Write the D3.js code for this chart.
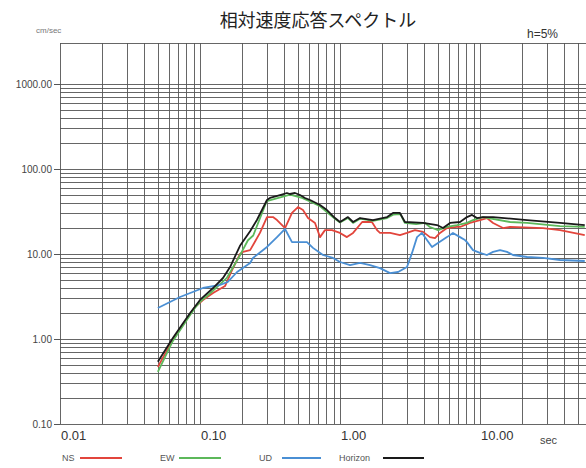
<!DOCTYPE html>
<html>
<head>
<meta charset="utf-8">
<script src="https://cdn.jsdelivr.net/npm/d3@7"></script>
<style>
  body { margin: 0; background: #fff; }
  svg { display: block; }
  .grid line { stroke: #555; stroke-width: 0.9; }
  .ylab { font-family: "Liberation Sans", Arial, sans-serif; font-size: 10px; fill: #444; }
  .xlab { font-family: "Liberation Sans", Arial, sans-serif; font-size: 13px; fill: #333; }
  .leg { font-family: "Liberation Sans Narrow", "Liberation Sans", sans-serif; font-size: 9px; fill: #555; }
</style>
</head>
<body>
<div id="chart"></div>
<script>
// svg size
var svgWidth = 586;
var svgHeight = 468;

// plot frame (right side runs past the picture edge)
var plot = { left: 60, right: 620, top: 43, bottom: 424 };

// axis ticks
var xTicks = [0.01, 0.1, 1, 10];
var xTickLabels = ["0.01", "0.10", "1.00", "10.00"];
var yTicks = [0.1, 1, 10, 100, 1000];
var yTickLabels = ["0.10", "1.00", "10.00", "100.00", "1000.00"];

// NS
var nsPeriod = [0.05, 0.064, 0.085, 0.092, 0.105, 0.124, 0.151, 0.169, 0.193, 0.203, 0.228, 0.268, 0.301, 0.332, 0.355, 0.405, 0.454, 0.501, 0.544, 0.591, 0.663, 0.72, 0.781, 0.877, 1.0, 1.12, 1.24, 1.44, 1.69, 1.84, 1.93, 2.28, 2.68, 3.01, 3.43, 3.92, 4.39, 4.77, 5.18, 5.81, 6.85, 7.2, 8.48, 10, 11.2, 12.4, 14.6, 16.4, 28.2, 37.3, 56];
var nsValue = [0.47, 0.98, 1.95, 2.38, 2.88, 3.48, 4.2, 6.4, 10.0, 10.6, 11.1, 17.7, 27.2, 27.2, 25.1, 20.2, 30.4, 35.7, 32.9, 26.5, 23.2, 15.8, 19.1, 19.1, 17.7, 15.8, 17.7, 23.8, 23.8, 19.1, 17.7, 17.7, 16.7, 17.7, 19.1, 18.2, 15.8, 15.4, 17.7, 20.2, 20.8, 20.8, 23.2, 25.1, 26.5, 23.2, 20.2, 20.8, 20.2, 19.1, 16.7];

// EW
var ewPeriod = [0.05, 0.064, 0.085, 0.092, 0.1, 0.124, 0.155, 0.19, 0.22, 0.24, 0.3, 0.44, 0.535, 0.6, 0.72, 0.92, 1.0, 1.14, 1.24, 1.39, 1.72, 2.17, 2.4, 2.7, 2.9, 3.5, 4.05, 4.39, 5.01, 5.81, 6.85, 8.07, 8.91, 10.5, 16.4, 21.7, 37.3, 56];
var ewValue = [0.41, 0.95, 1.91, 2.32, 2.73, 3.7, 5.2, 9.2, 14.5, 16.5, 42, 50, 45.6, 42, 36.5, 26, 23.5, 26.5, 23.2, 26, 24.5, 26.5, 29, 29.5, 23.2, 22.5, 23.2, 20.8, 19.1, 20.8, 21.9, 23.2, 25.1, 27.2, 23.8, 23.2, 21.3, 20.8];

// UD
var udPeriod = [0.05, 0.072, 0.105, 0.139, 0.158, 0.184, 0.228, 0.239, 0.301, 0.355, 0.405, 0.454, 0.501, 0.581, 0.641, 0.756, 0.891, 1.0, 1.18, 1.39, 1.64, 1.93, 2.28, 2.6, 3.01, 3.27, 3.55, 3.85, 4.18, 4.54, 5.01, 5.81, 6.41, 7.2, 7.81, 8.07, 8.91, 10, 11.2, 12.4, 13.9, 15.6, 17.2, 21.7, 28.2, 37.3, 56];
var udValue = [2.32, 3.12, 3.98, 4.32, 4.69, 6.14, 7.84, 8.98, 12.1, 15.8, 19.7, 13.8, 13.8, 13.8, 11.8, 9.73, 8.98, 8.05, 7.42, 7.84, 7.42, 6.83, 5.96, 6.14, 7.03, 10.3, 15.8, 17.7, 14.6, 12.1, 13.5, 15.8, 17.7, 15.8, 14.6, 13.8, 11.1, 10.3, 9.73, 10.6, 11.1, 10.6, 9.73, 9.22, 8.98, 8.5, 8.27];

// Horizon
var hzPeriod = [0.05, 0.064, 0.085, 0.1, 0.124, 0.146, 0.164, 0.193, 0.228, 0.255, 0.301, 0.316, 0.373, 0.418, 0.439, 0.477, 0.518, 0.562, 0.611, 0.72, 0.807, 0.921, 1.0, 1.14, 1.24, 1.39, 1.72, 2.17, 2.39, 2.68, 2.91, 3.92, 4.93, 5.44, 6.11, 7.2, 8.07, 8.77, 9.52, 10.5, 12.4, 21.7, 37.3, 56];
var hzValue = [0.54, 1.03, 2.02, 2.88, 3.98, 5.22, 7.03, 12.5, 18.5, 25.1, 43.2, 45.6, 49.4, 52.2, 50.8, 52.2, 49.4, 45.6, 43.2, 37.7, 32.9, 26.5, 23.8, 27.2, 23.8, 26.5, 25.1, 27.2, 30.4, 30.4, 23.8, 23.2, 21.9, 20.2, 23.2, 23.8, 27.2, 28.8, 26.5, 27.2, 27.2, 25.1, 23.2, 21.9];

var series = [
  { name: "NS", period: nsPeriod, value: nsValue, color: "#e2453c", lx: 62, l1: 80, l2: 122 },
  { name: "EW", period: ewPeriod, value: ewValue, color: "#5cb85a", lx: 160, l1: 179, l2: 221 },
  { name: "UD", period: udPeriod, value: udValue, color: "#4a8fd4", lx: 259, l1: 282, l2: 321 },
  { name: "Horizon", period: hzPeriod, value: hzValue, color: "#1a1a1a", lx: 339, l1: 383, l2: 424 }
];

var svg = d3.select("#chart")
  .append("svg")
  .attr("width", svgWidth)
  .attr("height", svgHeight);

// log scales
var xScale = d3.scaleLog().domain([0.01, 100]).range([plot.left, plot.right]);
var yScale = d3.scaleLog().domain([0.1, 1000]).range([plot.bottom, 84]);

// grid values: 1..9 inside each decade
var xGrid = [];
[0.01, 0.1, 1, 10].forEach(function(d) {
  for (var k = 1; k <= 9; k++) xGrid.push(d * k);
});
xGrid.push(100);
var yGrid = [];
[0.1, 1, 10, 100].forEach(function(d) {
  for (var k = 1; k <= 9; k++) yGrid.push(d * k);
});
yGrid.push(1000);

var grid = svg.append("g").attr("class", "grid");

grid.selectAll("line.v")
  .data(xGrid)
  .enter()
  .append("line")
  .attr("class", "v")
  .attr("x1", d => Math.round(xScale(d)) + 0.5)
  .attr("x2", d => Math.round(xScale(d)) + 0.5)
  .attr("y1", plot.top)
  .attr("y2", plot.bottom);

grid.selectAll("line.h")
  .data(yGrid)
  .enter()
  .append("line")
  .attr("class", "h")
  .attr("x1", plot.left)
  .attr("x2", plot.right)
  .attr("y1", d => Math.round(yScale(d)) + 0.5)
  .attr("y2", d => Math.round(yScale(d)) + 0.5);

// top border
grid.append("line")
  .attr("x1", plot.left).attr("x2", plot.right)
  .attr("y1", plot.top + 0.5).attr("y2", plot.top + 0.5);

// y axis ticks + labels
var yAxis = d3.axisLeft(yScale)
  .tickValues(yTicks)
  .tickFormat((d, i) => yTickLabels[i])
  .tickSize(6)
  .tickPadding(2);
var yg = svg.append("g")
  .attr("transform", `translate(${plot.left},0)`)
  .call(yAxis);
yg.select(".domain").remove();
yg.selectAll("line").attr("stroke", "#555");
yg.selectAll("text").attr("class", "ylab").attr("font-size", null).attr("font-family", null);

// x labels, left aligned at the tick
svg.selectAll("text.xlab")
  .data(xTicks)
  .enter()
  .append("text")
  .attr("class", "xlab")
  .attr("x", d => xScale(d) + 1)
  .attr("y", 440)
  .text((d, i) => xTickLabels[i]);

// curves
var line = d3.line()
  .x(d => xScale(d[0]))
  .y(d => yScale(d[1]));

series.forEach(function(s) {
  var pts = s.period.map((p, i) => [p, s.value[i]]);
  svg.append("path")
    .datum(pts)
    .attr("fill", "none")
    .attr("stroke", s.color)
    .attr("stroke-width", 1.8)
    .attr("stroke-linejoin", "round")
    .attr("d", line);
});

// legend
series.forEach(function(s) {
  svg.append("text")
    .attr("class", "leg")
    .attr("x", s.lx)
    .attr("y", 461)
    .text(s.name);
  svg.append("line")
    .attr("x1", s.l1).attr("x2", s.l2)
    .attr("y1", 458).attr("y2", 458)
    .attr("stroke", s.color)
    .attr("stroke-width", 2);
});

// titles and units
svg.append("text")
  .attr("x", 318)
  .attr("y", 27)
  .attr("text-anchor", "middle")
  .style("font-family", "'Noto Sans CJK JP', sans-serif")
  .style("font-size", "18px")
  .style("fill", "#222")
  .text("相対速度応答スペクトル");

svg.append("text")
  .attr("x", 527)
  .attr("y", 38)
  .style("font-family", "'Liberation Sans', sans-serif")
  .style("font-size", "12px")
  .style("fill", "#333")
  .text("h=5%");

svg.append("text")
  .attr("x", 36)
  .attr("y", 33)
  .style("font-family", "'Liberation Sans Narrow', 'Liberation Sans', sans-serif")
  .style("font-size", "8px")
  .style("fill", "#777")
  .text("cm/sec");

svg.append("text")
  .attr("x", 540)
  .attr("y", 444)
  .style("font-family", "'Liberation Sans Narrow', 'Liberation Sans', sans-serif")
  .style("font-size", "11px")
  .style("fill", "#444")
  .text("sec");
</script>
</body>
</html>
